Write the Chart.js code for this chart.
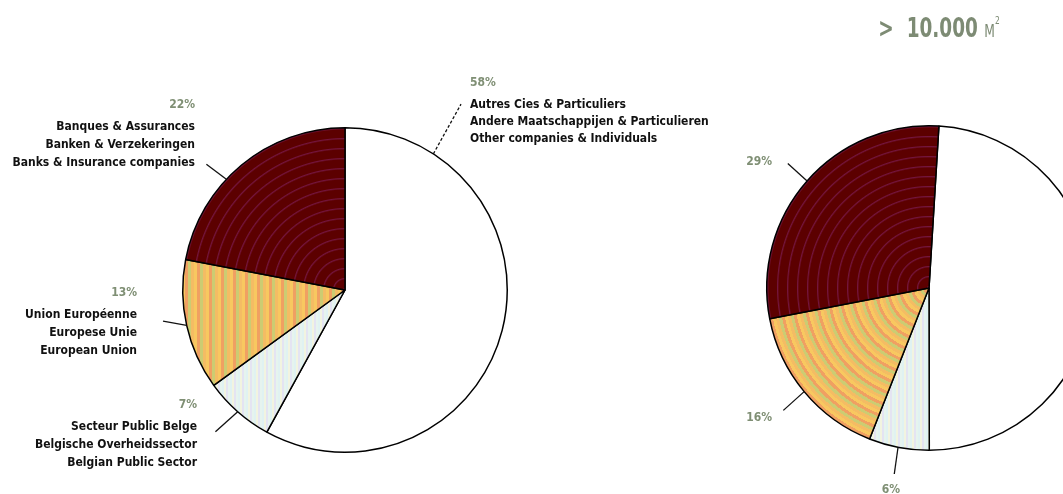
<!DOCTYPE html>
<html>
<head>
<meta charset="utf-8">
<script src="https://cdn.jsdelivr.net/npm/chart.js@4.4.1/dist/chart.umd.min.js"></script>
<style>
  html, body { margin: 0; padding: 0; background: #fff; width: 1063px; height: 494px; overflow: hidden; }
  #wrap { position: relative; width: 1063px; height: 494px; overflow: hidden; }
  canvas { position: absolute; top: 0; left: 0; }
  #title {
    position: absolute; right: 63px; top: 12px; color: #7d8b74;
    font-family: 'Liberation Sans Narrow', 'DejaVu Sans Condensed', sans-serif;
    font-size: 27px; font-weight: 600; white-space: nowrap;
    transform: scaleX(0.76); transform-origin: right center;
  }
  #title .unit { font-size: 18px; font-weight: normal; }
  #title sup { font-size: 11px; font-weight: normal; vertical-align: 13px; }
</style>
</head>
<body>
<div id="wrap">
  <canvas id="pie-left" width="1063" height="494"></canvas>
  <canvas id="pie-right" width="1100" height="494"></canvas>
  <div id="title">&gt;&nbsp; 10.000 <span class="unit">M</span><sup>2</sup></div>
</div>
<script>
// categories, clockwise from 12 o'clock
const categories = ['Autres Cies & Particuliers', 'Secteur Public Belge', 'Union Européenne', 'Banques & Assurances'];
const namesFr = ['Autres Cies & Particuliers', 'Secteur Public Belge', 'Union Européenne', 'Banques & Assurances'];
const namesNl = ['Andere Maatschappijen & Particulieren', 'Belgische Overheidssector', 'Europese Unie', 'Banken & Verzekeringen'];
const namesEn = ['Other companies & Individuals', 'Belgian Public Sector', 'European Union', 'Banks & Insurance companies'];

// shares in %
const shareLeft = [58, 7, 13, 22];
const shareRight = [49, 6, 16, 29];

// label placement (style only): anchor angle on rim, leader length/direction, text spot
const layoutLeft = [
    { at: -57, len: 57, dir: -61, x: 470, y: 83, align: 'left', dash: true, names: true },
    { at: null, len: 30, dir: 138, x: 197, y: 405, align: 'right', names: true },
    { at: null, len: 24, dir: 190, x: 137, y: 293, align: 'right', names: true },
    { at: 223, len: 25, dir: 217, x: 195, y: 105, align: 'right', names: true }
];
const layoutRight = [
    null,
    { at: 101, len: 27, dir: 98, x: 891, y: 490, align: 'center' },
    { at: null, len: 28, dir: 138, x: 772, y: 418, align: 'right' },
    { at: null, len: 26, dir: 222, x: 772, y: 162, align: 'right' }
];

const gradCache = new Map();

function ringGradient(ctx, cx, cy, r, base, line, period) {
    const g = ctx.createRadialGradient(cx, cy, 0, cx, cy, r);
    for (let d = 0; d < r; d += period) {
        const a = d / r;
        const b = Math.min((d + 1.5) / r, 1);
        const c = Math.min((d + 2.5) / r, 1);
        g.addColorStop(a, base);
        g.addColorStop(b, line);
        g.addColorStop(c, base);
    }
    return g;
}

function ringMulti(ctx, cx, cy, r, colors, period) {
    const g = ctx.createRadialGradient(cx, cy, 0, cx, cy, r);
    const step = period / colors.length;
    let i = 0;
    for (let d = 0; d < r; d += step) {
        const col = colors[i % colors.length];
        g.addColorStop(Math.min(d / r, 1), col);
        g.addColorStop(Math.min((d + step - 0.01) / r, 1), col);
        i++;
    }
    return g;
}

function stripeGradient(ctx, x0, x1, colors, width) {
    const g = ctx.createLinearGradient(x0, 0, x1, 0);
    const span = x1 - x0;
    let i = 0;
    for (let d = 0; d < span; d += width) {
        const col = colors[i % colors.length];
        g.addColorStop(Math.min(d / span, 1), col);
        g.addColorStop(Math.min((d + width - 0.01) / span, 1), col);
        i++;
    }
    return g;
}

function sliceFill(key, yellowStripes) {
    return (context) => {
        const chart = context.chart;
        const area = chart.chartArea;
        const idx = context.dataIndex;
        const plain = ['#ffffff', '#e4f0ec', '#e6c26a', '#5c0000'][idx];
        if (!area) return plain;
        const id = key + '-' + idx;
        if (gradCache.has(id)) return gradCache.get(id);
        const ctx = chart.ctx;
        const cx = (area.left + area.right) / 2;
        const cy = (area.top + area.bottom) / 2;
        const r = Math.min(area.width, area.height) / 2 + 4;
        let fill = plain;
        if (idx === 3) {
            fill = ringGradient(ctx, cx, cy, r, '#5c0000', '#74153e', 10);
        } else if (idx === 2) {
            const cols = ['#f8c860', '#f0a062', '#cccc72', '#f4bc64'];
            fill = yellowStripes
                ? stripeGradient(ctx, area.left, area.right, cols, 3)
                : ringMulti(ctx, cx, cy, r, cols, 12);
        } else if (idx === 1) {
            fill = stripeGradient(ctx, area.left, area.right, ['#e0f2f2', '#f2f4e0', '#e4e4f2', '#e6f4ee'], 2);
        }
        gradCache.set(id, fill);
        return fill;
    };
}

function labelPlugin(layout, values) {
    return {
        id: 'sliceLabels',
        afterDraw(chart) {
            const ctx = chart.ctx;
            const arcs = chart.getDatasetMeta(0).data;
            ctx.save();
            arcs.forEach((arc, i) => {
                const lay = layout[i];
                if (!lay) return;
                const p = arc.getProps(['x', 'y', 'startAngle', 'endAngle', 'outerRadius'], true);
                const a = lay.at !== null ? lay.at * Math.PI / 180 : (p.startAngle + p.endAngle) / 2;
                const sx = p.x + Math.cos(a) * p.outerRadius;
                const sy = p.y + Math.sin(a) * p.outerRadius;
                const d = lay.dir * Math.PI / 180;
                const ex = sx + Math.cos(d) * lay.len;
                const ey = sy + Math.sin(d) * lay.len;
                ctx.beginPath();
                ctx.setLineDash(lay.dash ? [3, 2] : []);
                ctx.strokeStyle = '#111';
                ctx.lineWidth = 1.3;
                ctx.moveTo(sx, sy);
                ctx.lineTo(ex, ey);
                ctx.stroke();
                ctx.setLineDash([]);

                ctx.textAlign = lay.align;
                ctx.textBaseline = 'middle';
                ctx.fillStyle = '#7f8f74';
                ctx.font = 'bold 12px "DejaVu Sans Condensed", sans-serif';
                ctx.fillText(values[i] + '%', lay.x, lay.y);
                if (lay.names) {
                    ctx.fillStyle = '#111';
                    ctx.font = 'bold 12px "DejaVu Sans Condensed", sans-serif';
                    const step = lay.align === 'left' ? 17 : 18;
                    [namesFr[i], namesNl[i], namesEn[i]].forEach((t, k) => {
                        ctx.fillText(t, lay.x, lay.y + 22 + k * step);
                    });
                }
            });
            ctx.restore();
        }
    };
}

function makePie(canvasId, key, values, layout, padding, yellowStripes, rotation) {
    const ctx = document.getElementById(canvasId).getContext('2d');
    return new Chart(ctx, {
        type: 'pie',
        data: {
            labels: categories,
            datasets: [{
                data: values,
                backgroundColor: sliceFill(key, yellowStripes),
                borderColor: '#000',
                borderWidth: 1.5
            }]
        },
        options: {
            responsive: false,
            animation: false,
            rotation: rotation,
            layout: { padding: padding },
            plugins: {
                legend: { display: false },
                tooltip: { enabled: false }
            }
        },
        plugins: [labelPlugin(layout, values)]
    });
}

makePie('pie-left', 'L', shareLeft, layoutLeft, { left: 182, top: 127, right: 555, bottom: 41 }, true, 0);
makePie('pie-right', 'R', shareRight, layoutRight, { left: 766, top: 125, right: 8, bottom: 43 }, false, 3.5);
</script>
</body>
</html>
